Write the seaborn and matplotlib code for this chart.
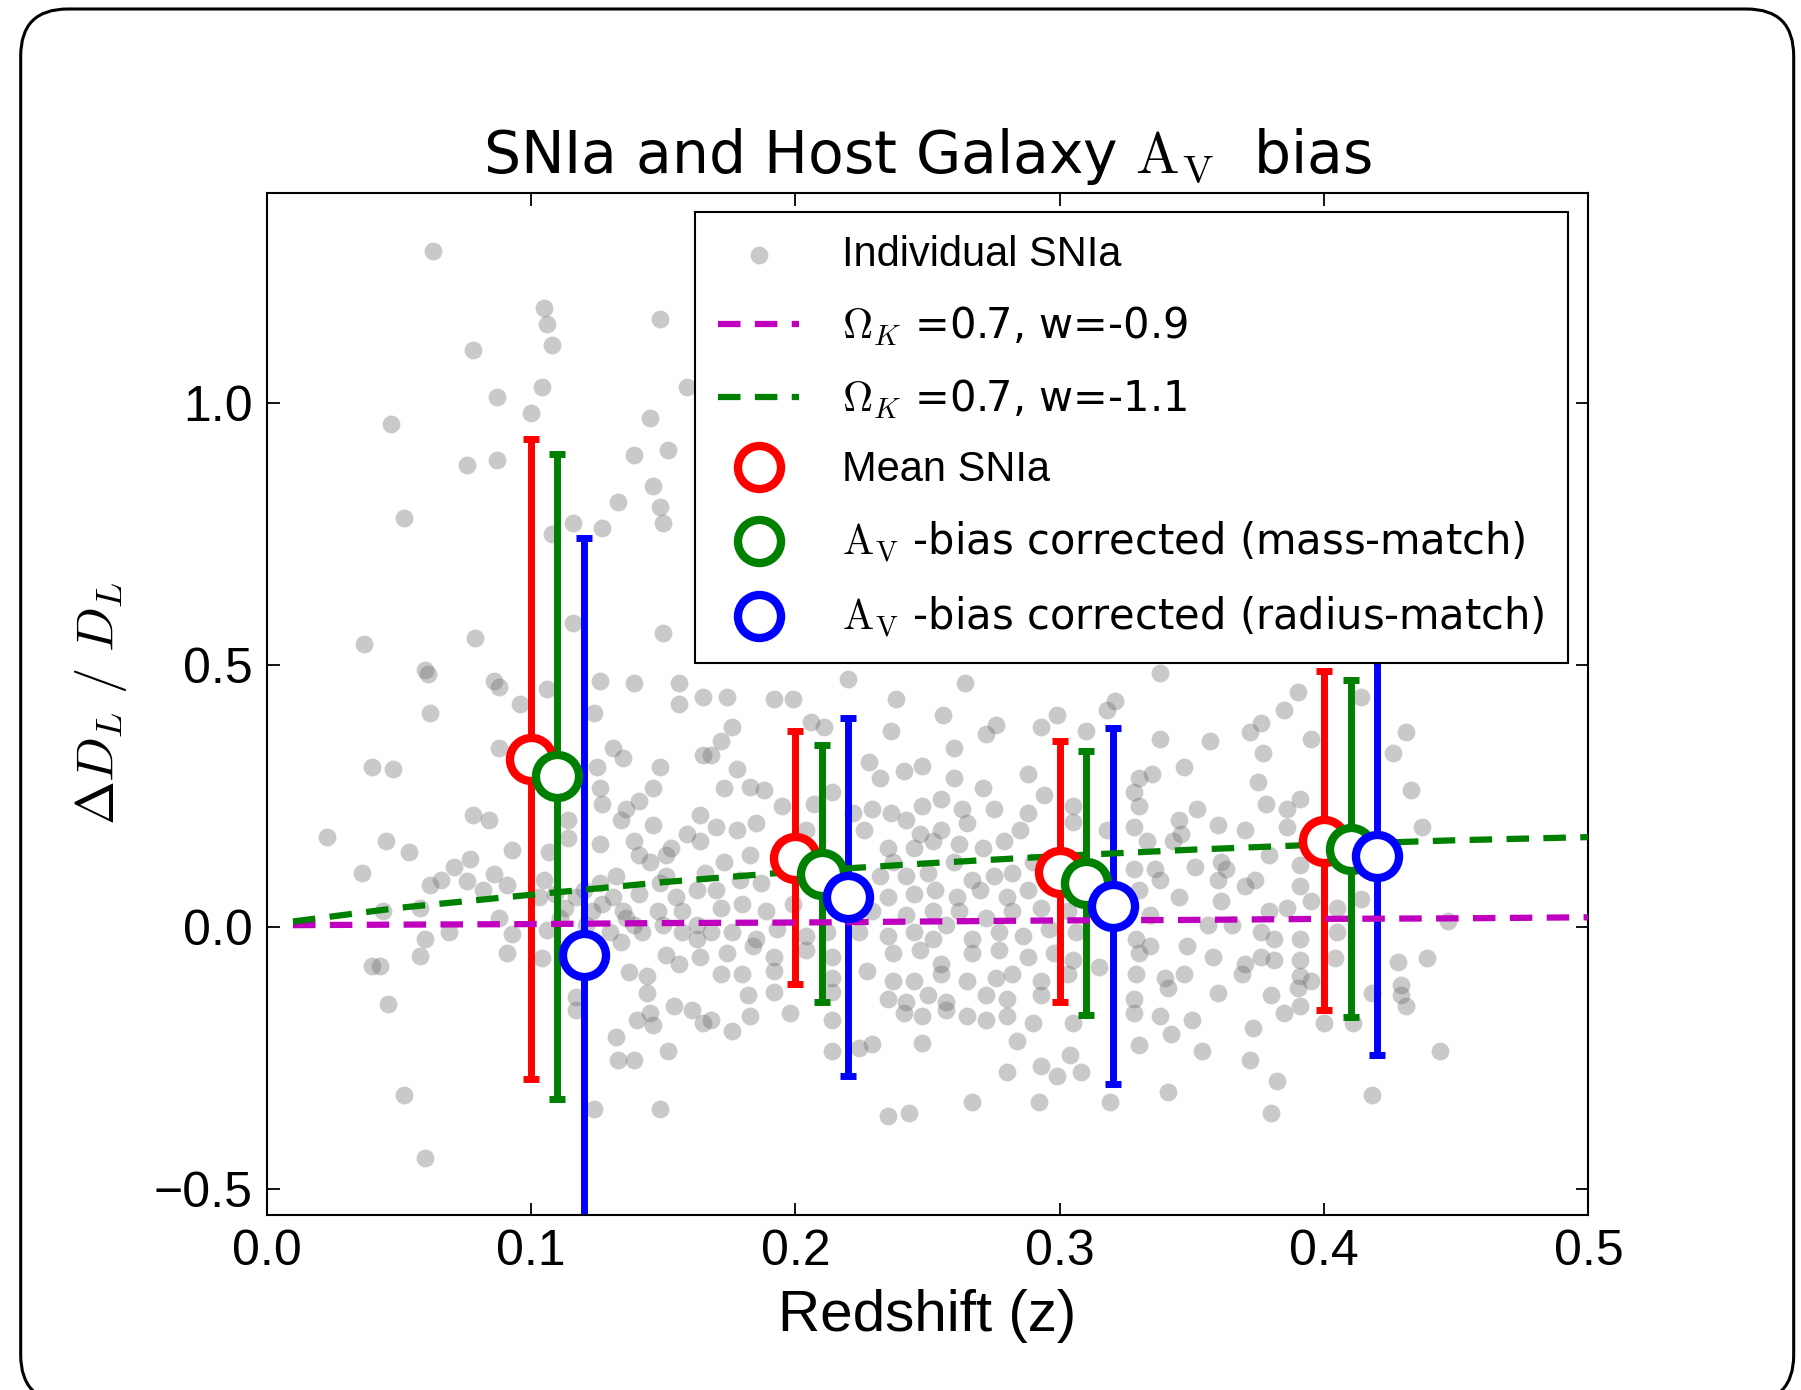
import numpy as np
import pandas as pd
import matplotlib
matplotlib.use("Agg")
import matplotlib.pyplot as plt
import seaborn as sns
from matplotlib.patches import FancyBboxPatch

# ---------------- data ----------------
# individual SNIa (redshift, Delta D_L / D_L), read region by region
sn_z_a = [.063, .105, .106, .108, .149, .078, .104, .087, .159, .100,
          .047, .145, .087, .076, .139, .152, .146, .133, .149, .150,
          .116, .127, .052, .108, .116, .079, .037, .150, .060]
sn_dl_a = [1.29, 1.18, 1.15, 1.11, 1.16, 1.10, 1.03, 1.01, 1.03, .98,
           .96, .97, .89, .88, .90, .91, .84, .81, .80, .77,
           .77, .76, .78, .75, .58, .55, .54, .56, .49]

sn_z_b = [.061, .086, .088, .106, .126, .139, .156, .156, .165, .062,
          .096, .124, .088, .040, .048, .131, .135, .149, .165, .125,
          .126, .127, .146, .141, .136, .134, .146, .164, .114, .114,
          .078, .084, .023, .045, .054, .093, .107, .126, .139, .141,
          .153, .159, .164, .036, .071, .077, .086, .082, .062, .066,
          .076, .091, .105, .109, .117, .126, .131, .151, .155, .163,
          .148, .136, .123, .113, .103, .058, .044, .088, .093, .106,
          .069, .060, .130, .134, .142, .163, .164, .156, .151, .058,
          .091, .104, .040, .043, .137, .144, .144, .145, .140, .146,
          .154, .161, .165, .117, .117, .046, .132, .133, .139, .152,
          .052, .124, .149, .060, .120, .127, .135, .141, .149, .157,
          .163, .157, .150, .139, .121, .111, .132, .145, .151]
sn_dl_b = [.483, .468, .458, .453, .468, .465, .465, .424, .438, .408,
           .424, .408, .341, .304, .301, .341, .321, .304, .327, .304,
           .264, .234, .264, .240, .224, .204, .194, .214, .204, .170,
           .214, .204, .172, .164, .143, .147, .143, .157, .164, .137,
           .150, .177, .164, .103, .113, .130, .100, .070, .080, .090,
           .087, .080, .090, .063, .056, .083, .056, .097, .056, .070,
           .030, .016, .030, .036, .056, .036, .030, .016, -.014, -.007,
           -.010, -.024, -.010, -.030, -.010, -.024, -.057, -.071, -.054, -.056,
           -.050, -.060, -.074, -.074, -.087, -.094, -.127, -.164, -.178, -.188,
           -.151, -.158, -.184, -.158, -.134, -.147, -.211, -.255, -.255, -.238,
           -.321, -.348, -.348, -.442, .070, .043, .030, .063, .083, .030,
           .003, -.010, .003, .003, .003, .016, .097, .123, .137]

sn_z_c = [.220, .264, .174, .192, .199, .238, .256, .176, .172, .206,
          .211, .236, .260, .272, .276, .293, .299, .310, .318, .321,
          .168, .178, .228, .241, .248, .232, .260, .288, .294, .328,
          .330, .173, .183, .188, .214, .195, .207, .222, .229, .236,
          .242, .248, .255, .263, .271, .275, .288, .305, .330, .170,
          .178, .185, .204, .226, .247, .255, .265, .285, .305, .318,
          .328, .333, .166, .173, .183, .179, .170, .187, .235, .237,
          .245, .252, .262, .271, .279, .232, .242, .250, .260, .267,
          .275, .282, .290, .226, .235, .245, .253, .261, .270, .280,
          .288, .328, .330, .172, .180, .189, .199, .229, .242, .252,
          .262, .272, .282, .293, .303, .168, .176, .185, .193, .204,
          .212, .224, .235, .245, .252, .257, .267, .277, .286, .296,
          .306, .329, .174, .184, .192, .204, .214, .237, .247, .255,
          .267, .277, .288, .298, .305, .315, .330, .172, .180, .192,
          .214, .227, .237, .245, .255, .265, .276, .282, .293, .303,
          .329, .182, .192, .214, .235, .242, .250, .257, .272, .280,
          .293, .328, .168, .176, .183, .198, .214, .241, .248, .257,
          .265, .272, .280, .290, .305, .328, .330, .214, .224, .229,
          .248, .284, .293, .299, .304, .308, .280, .267, .292, .235,
          .243, .319]
sn_dl_c = [.473, .465, .438, .434, .434, .434, .404, .381, .354, .391,
           .381, .374, .341, .368, .384, .381, .404, .374, .414, .431,
           .327, .301, .314, .297, .307, .284, .284, .291, .251, .257,
           .284, .264, .267, .261, .257, .230, .234, .217, .224, .217,
           .204, .230, .244, .224, .264, .224, .217, .230, .230, .190,
           .184, .197, .184, .184, .177, .184, .197, .184, .200, .184,
           .190, .164, .103, .123, .137, .090, .070, .083, .150, .123,
           .150, .164, .157, .150, .164, .097, .097, .103, .123, .090,
           .097, .103, .123, .057, .057, .063, .070, .057, .070, .057,
           .070, .110, .070, .036, .043, .030, .043, .030, .023, .030,
           .030, .016, .030, .036, .030, -.010, -.010, -.024, -.004, -.017,
           -.010, -.010, -.017, -.010, -.024, .003, -.024, -.010, -.017, -.004,
           -.010, -.024, -.050, -.037, -.057, -.044, -.057, -.050, -.044, -.071,
           -.050, -.044, -.057, -.050, -.064, -.077, -.050, -.091, -.091, -.084,
           -.097, -.084, -.104, -.104, -.091, -.104, -.097, -.091, -.104, -.091,
           -.091, -.131, -.124, -.124, -.137, -.144, -.131, -.144, -.131, -.137,
           -.131, -.137, -.178, -.198, -.171, -.164, -.178, -.164, -.171, -.158,
           -.171, -.178, -.171, -.184, -.184, -.164, -.225, -.238, -.231, -.224,
           -.221, -.218, -.265, -.285, -.245, -.278, -.278, -.335, -.335, -.362,
           -.355, -.335]

sn_z_d = [.338, .390, .385, .376, .372, .338, .357, .395, .414, .431,
          .377, .426, .347, .335, .375, .433, .391, .378, .386, .352,
          .345, .360, .370, .386, .437, .346, .343, .336, .351, .361,
          .363, .379, .391, .338, .360, .370, .374, .391, .395, .345,
          .361, .414, .405, .386, .379, .334, .356, .365, .376, .381,
          .391, .405, .447, .334, .348, .358, .370, .376, .381, .391,
          .404, .428, .439, .340, .347, .369, .391, .395, .341, .360,
          .380, .390, .418, .429, .431, .429, .338, .350, .385, .391,
          .400, .411, .342, .373, .354, .372, .444, .382, .341, .418,
          .380]
sn_dl_d = [.485, .448, .414, .388, .371, .358, .354, .358, .438, .371,
           .331, .331, .304, .291, .277, .261, .244, .234, .224, .224,
           .204, .194, .184, .190, .190, .177, .164, .110, .114, .123,
           .110, .137, .117, .090, .090, .077, .090, .077, .050, .057,
           .050, .053, .036, .036, .030, .023, .003, .003, -.010, -.024,
           -.024, -.010, .010, -.037, -.037, -.057, -.071, -.057, -.064, -.064,
           -.060, -.067, -.060, -.097, -.091, -.091, -.094, -.104, -.117, -.127,
           -.131, -.117, -.127, -.111, -.151, -.131, -.171, -.178, -.164, -.151,
           -.184, -.184, -.204, -.194, -.238, -.255, -.238, -.295, -.315, -.321,
           -.355]

# cosmology model curves
model_z = [0.01, 0.05, 0.10, 0.15, 0.20, 0.25, 0.30, 0.35, 0.40, 0.45, 0.50]
model_w09 = [0.003, 0.004, 0.005, 0.007, 0.008, 0.010, 0.012, 0.013, 0.015, 0.016, 0.018]
model_w11 = [0.010, 0.036, 0.061, 0.085, 0.105, 0.121, 0.135, 0.147, 0.157, 0.165, 0.171]

# binned means
mean_z = [0.10, 0.20, 0.30, 0.40]
mean_dl = [0.320, 0.132, 0.105, 0.164]
mean_err = [0.610, 0.242, 0.249, 0.323]
mass_z = [0.11, 0.21, 0.31, 0.41]
mass_dl = [0.287, 0.101, 0.083, 0.149]
mass_err = [0.615, 0.245, 0.252, 0.322]
rad_z = [0.12, 0.22, 0.32, 0.42]
rad_dl = [-0.053, 0.057, 0.039, 0.134]
rad_err = [0.794, 0.341, 0.340, 0.378]

labels = ["Individual SNIa",
          r"$\Omega_K$ =0.7, w=-0.9",
          r"$\Omega_K$ =0.7, w=-1.1",
          "Mean SNIa",
          r"$\mathrm{A_V}$ -bias corrected (mass-match)",
          r"$\mathrm{A_V}$ -bias corrected (radius-match)"]

# ---------------- plotting ----------------
sns.set_style("ticks")
plt.rcParams["font.family"] = ["Liberation Sans", "DejaVu Sans"]
plt.rcParams["mathtext.fontset"] = "cm"
plt.rcParams["axes.unicode_minus"] = True
for k in ("text.color", "axes.labelcolor", "xtick.color", "ytick.color",
          "axes.edgecolor"):
    plt.rcParams[k] = "k"

fig = plt.figure(figsize=(18.01, 13.90), dpi=100)
ax = fig.add_axes([0.1480, 0.1259, 0.7340, 0.7353])

sn = pd.DataFrame({
    "z": sn_z_a + sn_z_b + sn_z_c + sn_z_d,
    "dl": sn_dl_a + sn_dl_b + sn_dl_c + sn_dl_d,
})
sns.scatterplot(data=sn, x="z", y="dl", ax=ax, color="0.40", alpha=0.35,
                s=165, linewidth=0, zorder=1, legend=False)
sc = ax.collections[0]

series = [(mean_z, mean_dl, mean_err, "r"),
          (mass_z, mass_dl, mass_err, "g"),
          (rad_z, rad_dl, rad_err, "b")]
for z, d, e, c in series:
    ax.errorbar(z, d, yerr=e, fmt="none", ecolor=c, elinewidth=5,
                capsize=5.5, capthick=5, zorder=2)

lm, = ax.plot(model_z, model_w09, color="m", lw=4.5, dashes=(3.6, 2.3), zorder=3)
lg, = ax.plot(model_z, model_w11, color="g", lw=4.5, dashes=(3.6, 2.3), zorder=3)

marks = []
for z, d, e, c in series:
    mk, = ax.plot(z, d, "o", mfc="white", mec=c, ms=31, mew=6, zorder=4)
    marks.append(mk)

ax.set_xlim(0, 0.5)
ax.set_ylim(-0.55, 1.40)
ax.set_xticks([0.0, 0.1, 0.2, 0.3, 0.4, 0.5])
ax.set_xticklabels(["0.0", "0.1", "0.2", "0.3", "0.4", "0.5"])
ax.set_yticks([-0.5, 0.0, 0.5, 1.0])
ax.set_yticklabels(["\u22120.5", "0.0", "0.5", "1.0"])
ax.tick_params(direction="in", top=True, right=True, length=9, width=1.3,
               labelsize=36, colors="k")
ax.tick_params(axis="x", pad=10)
ax.tick_params(axis="y", pad=10)
for sp in ax.spines.values():
    sp.set_linewidth(1.5)
    sp.set_color("k")

ax.set_xlabel("Redshift (z)", fontsize=42, labelpad=10)
ax.set_ylabel(r"$\Delta D_L\ /\ D_L$", fontsize=38, labelpad=18)
ax.set_title(r"SNIa and Host Galaxy $\mathrm{A_V}$  bias", fontsize=42,
             fontfamily="DejaVu Sans", pad=14)

leg = ax.legend([sc, lm, lg] + marks, labels, loc="upper right",
                bbox_to_anchor=(0.9845, 0.981), borderaxespad=0,
                fontsize=30, frameon=True, fancybox=False, framealpha=1,
                edgecolor="k", numpoints=1, scatterpoints=1,
                handlelength=1.93, handletextpad=1.05, borderpad=0.55,
                labelspacing=0.71)
leg.get_frame().set_linewidth(1.5)
leg.set_zorder(10)
for i in (1, 2, 4, 5):
    leg.get_texts()[i].set_fontfamily("DejaVu Sans")

# rounded outer frame
frame = FancyBboxPatch((0.207, -0.12), 17.73, 13.93,
                       boxstyle="round,pad=0,rounding_size=0.47",
                       transform=fig.dpi_scale_trans, fill=False,
                       edgecolor="k", linewidth=2.2, zorder=0)
fig.patches.append(frame)

fig.savefig("out.png", dpi=100)
